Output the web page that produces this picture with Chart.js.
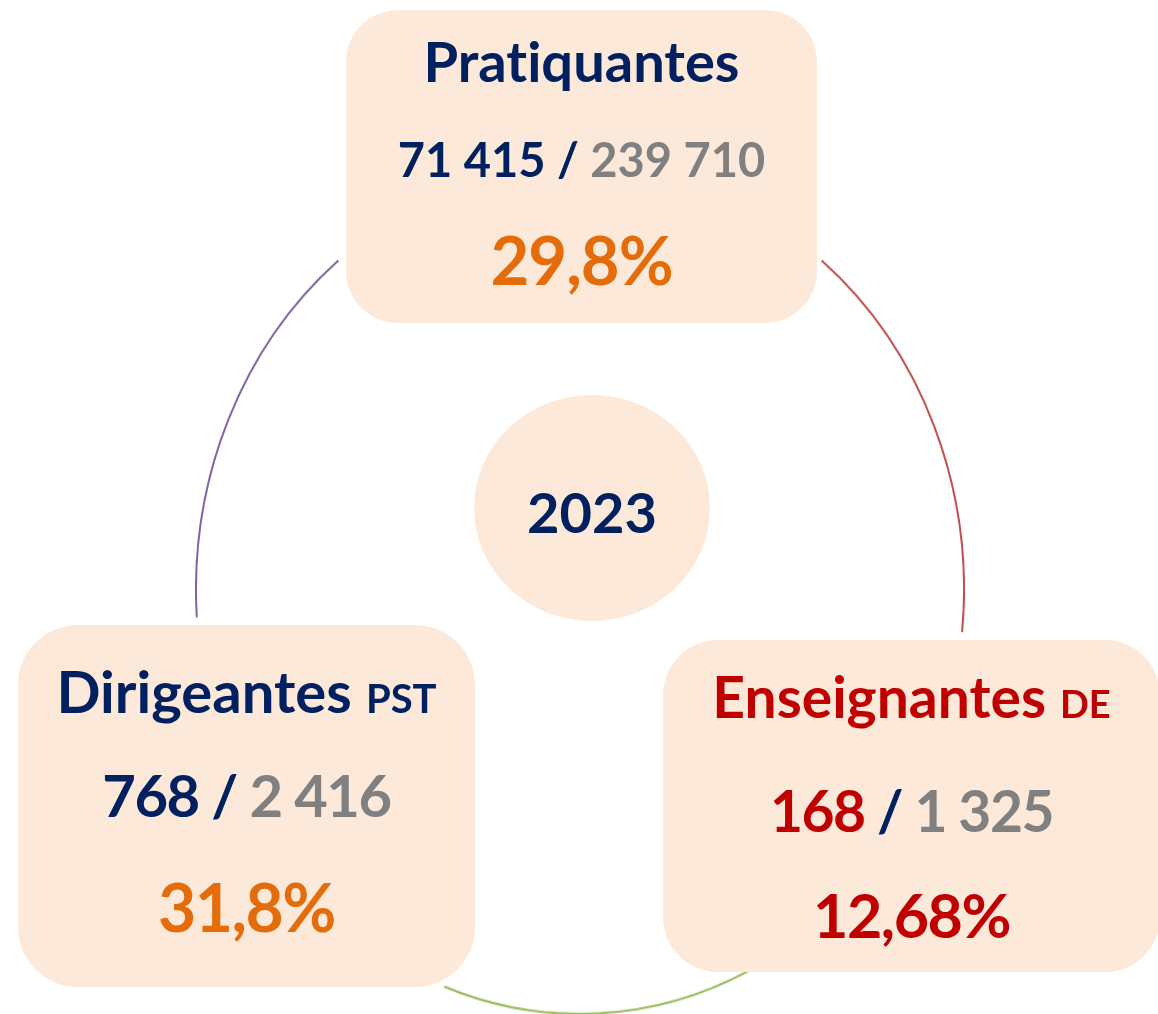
<!DOCTYPE html>
<html lang="fr">
<head>
<meta charset="utf-8">
<title>2023</title>
<script src="https://cdn.jsdelivr.net/npm/chart.js@4/dist/chart.umd.min.js"></script>
<style>
    html, body {
        margin: 0;
        padding: 0;
        background: #fff;
    }
    #page {
        position: relative;
        width: 1158px;
        height: 1014px;
        overflow: hidden;
        font-family: Lato, 'Open Sans', sans-serif;
        font-weight: 700;
        font-variant-ligatures: none;
        font-feature-settings: "liga" 0, "clig" 0;
    }
    #ring {
        position: absolute;
        left: 195px;
        top: 205px;
        width: 770px;
        height: 770px;
        transform: scaleY(1.1039);
        transform-origin: 50% 50%;
    }
    .box {
        position: absolute;
        background: #fde9d9;
    }
    .line {
        position: absolute;
        left: 0;
        right: 0;
        text-align: center;
        line-height: 1.2;
        white-space: nowrap;
    }
    .navy { color: #002060; }
    .grey { color: #808080; }
    .orange { color: #e46c0a; }
    .red { color: #c00000; }
</style>
</head>
<body>
<div id="page">
    <div id="ring"><canvas id="ringChart"></canvas></div>
    <div id="boxes"></div>
</div>
<script>
// données 2023 : femmes / total
const year = '2023';
const groups = ['Pratiquantes', 'Dirigeantes', 'Enseignantes'];
const groupSuffix = ['', 'PST', 'DE'];
const womenCounts = [71415, 768, 168];
const totalCounts = [239710, 2416, 1325];
const shares = [29.8, 31.8, 12.68];

// arcs du cercle (degrés, sens horaire depuis le haut), gaps transparents
const arcSpans = [56.7, 58.3, 46.7, 65.6, 54.7, 78];
const arcColors = ['#c0504d', 'rgba(0,0,0,0)', '#9bbb59', 'rgba(0,0,0,0)', '#8064a2', 'rgba(0,0,0,0)'];

// mise en page des cartouches : [ligne de base, taille, espacement]
const boxLayout = [
    { x: 346, y: 10, w: 471, h: 313, r: 52, title: [82, 56, 0], nums: [177, 47, 0], pct: [285, 67, -1],
      titleColor: 'navy', numColor: 'navy', pctColor: 'orange' },
    { x: 18, y: 625, w: 457, h: 362, r: 60, title: [713, 58, 40], nums: [817, 58, -1.5], pct: [932, 66, -1.5],
      titleColor: 'navy', numColor: 'navy', pctColor: 'orange' },
    { x: 663, y: 640, w: 497, h: 332, r: 55, title: [718, 57, 38], nums: [832, 57, -1.5], pct: [938, 61, -1.5],
      titleColor: 'red', numColor: 'red', pctColor: 'red' }
];

function formatInt(n) {
    return String(n).replace(/\B(?=(\d{3})+(?!\d))/g, ' ');
}

function formatPct(v) {
    return String(v).replace('.', ',') + '%';
}

// ligne de texte placée par sa ligne de base (Lato : ascent ~0.987em)
function addLine(box, layout, baseline, size, html, spacing) {
    const div = document.createElement('div');
    div.className = 'line';
    div.style.fontSize = size + 'px';
    div.style.top = (baseline - layout.y - size * 0.987) + 'px';
    if (spacing) div.style.letterSpacing = spacing + 'px';
    div.innerHTML = html;
    box.appendChild(div);
}

const boxesEl = document.getElementById('boxes');

groups.forEach((name, i) => {
    const L = boxLayout[i];
    const box = document.createElement('div');
    box.className = 'box';
    box.style.left = L.x + 'px';
    box.style.top = L.y + 'px';
    box.style.width = L.w + 'px';
    box.style.height = L.h + 'px';
    box.style.borderRadius = L.r + 'px';

    let title = `<span class="${L.titleColor}">${name}</span>`;
    if (groupSuffix[i]) {
        title += ` <span class="${L.titleColor}" style="font-size:${L.title[2]}px">${groupSuffix[i]}</span>`;
    }
    addLine(box, L, L.title[0], L.title[1], title);
    addLine(box, L, L.nums[0], L.nums[1],
        `<span class="${L.numColor}">${formatInt(womenCounts[i])}</span> <span class="navy">/</span> <span class="grey">${formatInt(totalCounts[i])}</span>`,
        L.nums[2]);
    addLine(box, L, L.pct[0], L.pct[1], `<span class="${L.pctColor}">${formatPct(shares[i])}</span>`, L.pct[2]);

    boxesEl.appendChild(box);
});

// rond central avec l'année
const yearBox = document.createElement('div');
yearBox.className = 'box';
yearBox.style.left = '474px';
yearBox.style.top = '395px';
yearBox.style.width = '236px';
yearBox.style.height = '226px';
yearBox.style.borderRadius = '50%';
const yearLayout = { y: 395 };
addLine(yearBox, yearLayout, 533, 56, `<span class="navy">${year}</span>`);
boxesEl.appendChild(yearBox);

// le cercle : un doughnut très fin, segments visibles / transparents
const ctx = document.getElementById('ringChart').getContext('2d');
new Chart(ctx, {
    type: 'doughnut',
    data: {
        labels: arcSpans.map((_, i) => 'arc' + i),
        datasets: [{
            data: arcSpans,
            backgroundColor: arcColors,
            borderWidth: 0,
            hoverOffset: 0
        }]
    },
    options: {
        responsive: true,
        maintainAspectRatio: false,
        animation: false,
        events: [],
        rotation: 39,
        cutout: 383,
        layout: { padding: 0 },
        plugins: {
            legend: { display: false },
            tooltip: { enabled: false }
        }
    }
});
</script>
</body>
</html>
